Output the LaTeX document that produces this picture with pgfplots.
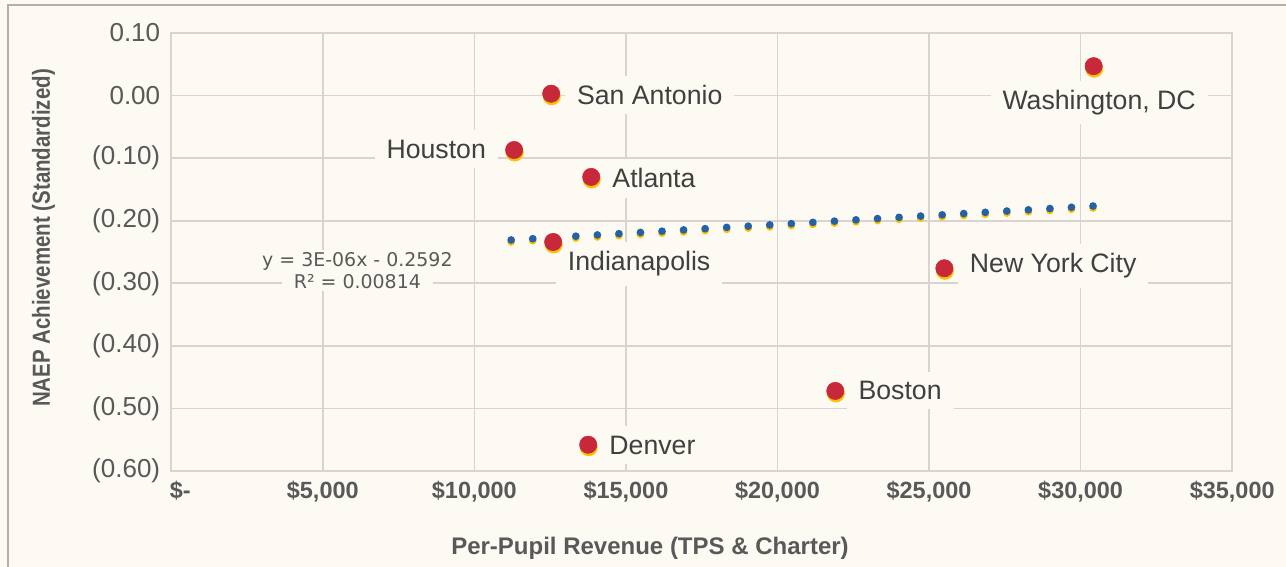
\documentclass[border=0pt]{standalone}
\usepackage{pgfplots}
\pgfplotsset{compat=1.18}
\usepackage{graphicx}
\usepackage{fontspec}
\setmainfont{Liberation Sans}
\newfontfamily\eqfont{DejaVu Sans}
\definecolor{bg}{HTML}{FCFAF2}
\definecolor{gridc}{HTML}{D9D5CE}
\definecolor{framec}{HTML}{B4B0AA}
\definecolor{ptred}{HTML}{C8293A}
\definecolor{ptyel}{HTML}{FFC000}
\definecolor{trblue}{HTML}{2462A8}
\definecolor{txt}{HTML}{404040}
\definecolor{tickc}{HTML}{595959}
\tikzset{
  lbl/.style={fill=bg, inner xsep=9pt, inner ysep=7pt, text=txt, font=\fontsize{20}{24}\selectfont},
  eqlbl/.style={fill=bg, inner xsep=9pt, inner ysep=2pt, text=tickc, font=\eqfont\fontsize{14.2}{17}\selectfont},
}
\begin{document}
\begin{tikzpicture}
\clip (0,0) rectangle (964.5pt,425.25pt);
\fill[bg] (0,0) rectangle (964.5pt,425.25pt);
\draw[framec, line width=1.5pt] (6pt,-10pt) -- (6pt,421.5pt) -- (990pt,421.5pt);
\begin{axis}[
  at={(128.4pt,72pt)}, anchor=south west,
  scale only axis, width=795.75pt, height=328.5pt,
  xmin=0, xmax=35000, ymin=-0.6, ymax=0.1,
  scaled x ticks=false, scaled y ticks=false,
  xtick={0,5000,10000,15000,20000,25000,30000,35000},
  xticklabels={\hspace*{13.5pt}\$-,{\$5,000},{\$10,000},{\$15,000},{\$20,000},{\$25,000},{\$30,000},{\$35,000}},
  ytick={-0.6,-0.5,-0.4,-0.3,-0.2,-0.1,0,0.1},
  yticklabels={(0.60),(0.50),(0.40),(0.30),(0.20),(0.10),0.00,0.10},
  grid=major, major grid style={gridc, line width=1.2pt},
  axis line style={gridc, line width=1.2pt},
  major tick length=0pt,
  tick label style={tickc},
  yticklabel style={font=\fontsize{19.5}{23}\selectfont, xshift=-4.75pt},
  xticklabel style={font=\fontsize{17.6}{21}\selectfont\bfseries, yshift=-4pt},
  /pgf/number format/assume math mode=true,
]
% data labels
\node[lbl, anchor=base west, xshift=10.25pt, yshift=-8.25pt] at (axis cs:12535,0.003) {San Antonio};
\node[lbl, anchor=base east, xshift=-12pt, yshift=-6pt] at (axis cs:11313,-0.087) {Houston};
\node[lbl, anchor=base west, xshift=6.75pt, yshift=-8.25pt] at (axis cs:13855,-0.130) {Atlanta};
\node[lbl, anchor=base, xshift=64.5pt, yshift=-21.75pt] at (axis cs:12600,-0.234) {Indianapolis};
\node[lbl, anchor=base, xshift=4.1pt, yshift=-32.5pt] at (axis cs:30430,0.047) {Washington, DC};
\node[lbl, anchor=base west, xshift=10pt, yshift=-3.45pt] at (axis cs:25505,-0.276) {New York City};
\node[lbl, anchor=base west, xshift=8.25pt, yshift=-6.75pt] at (axis cs:21907,-0.472) {Boston};
\node[lbl, anchor=base west, xshift=6.75pt, yshift=-7pt] at (axis cs:13756,-0.558) {Denver};
% trendline equation
\node[eqlbl, anchor=base] at (axis cs:6143,-0.2735) {y = 3E-06x - 0.2592};
\node[eqlbl, anchor=base] at (axis cs:6143,-0.308) {R² = 0.00814};
% points: shadow then red
\addplot[only marks, mark=*, mark size=6.5pt, ptyel, mark options={xshift=0.4pt, yshift=-1.9pt}] coordinates {
 (11313,-0.087) (12535,0.003) (12600,-0.234) (13756,-0.558)
 (13855,-0.130) (21907,-0.472) (25505,-0.276) (30430,0.047)};
\addplot[only marks, mark=*, mark size=6.5pt, ptred] coordinates {
 (11313,-0.087) (12535,0.003) (12600,-0.234) (13756,-0.558)
 (13855,-0.130) (21907,-0.472) (25505,-0.276) (30430,0.047)};
% linear trendline (dotted)
\addplot[ptyel, line width=5.8pt, line cap=round, dash pattern=on 0pt off 16.19pt, yshift=-1.5pt] coordinates {(11215,-0.2308) (30430,-0.1765)};
\addplot[trblue, line width=5.8pt, line cap=round, dash pattern=on 0pt off 16.19pt] coordinates {(11215,-0.2308) (30430,-0.1765)};
\end{axis}
% axis titles
\node[anchor=base, text=tickc, font=\fontsize{18}{21}\selectfont\bfseries] at (487.5pt,9.3pt) {Per-Pupil Revenue (TPS \& Charter)};
\node[anchor=base, rotate=90, text=tickc, font=\fontsize{18.5}{21}\selectfont\bfseries] at (37.5pt,246.75pt) {\scalebox{0.83}[1]{NAEP Achievement (Standardized)}};
\end{tikzpicture}
\end{document}
